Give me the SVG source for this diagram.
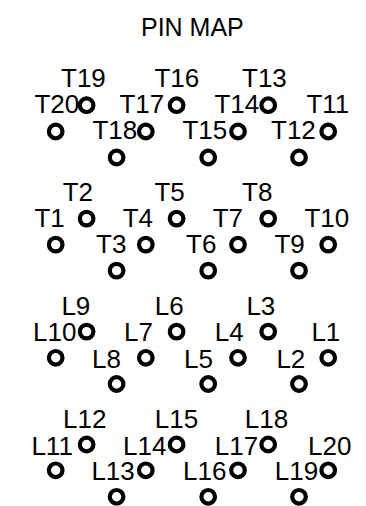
<svg xmlns="http://www.w3.org/2000/svg" width="366" height="506" viewBox="0 0 366 506">
<style>
text{font-family:"Liberation Sans",Arial,Helvetica,sans-serif;font-size:26px;fill:#000}
.title{font-size:25px}
circle{fill:none;stroke:#000;stroke-width:4.2}
</style>
<rect width="366" height="506" fill="#fff"/>
<text class="title" x="141" y="35.7">PIN MAP</text>
<g id="connectors"/>
<g id="sec-T-upper">
<g id="T19"><text x="61" y="86.7">T19</text><circle cx="86.6" cy="105.2" r="6.8"/></g>
<g id="T16"><text x="154.4" y="86.7">T16</text><circle cx="176.6" cy="105.2" r="6.8"/></g>
<g id="T13"><text x="242" y="86.7">T13</text><circle cx="268.2" cy="105.2" r="6.8"/></g>
<g id="T20"><text x="34.4" y="112.9">T20</text><circle cx="55.7" cy="131.5" r="6.8"/></g>
<g id="T17"><text x="119.4" y="112.9">T17</text><circle cx="145.8" cy="131.5" r="6.8"/></g>
<g id="T14"><text x="214.4" y="112.9">T14</text><circle cx="238" cy="131.5" r="6.8"/></g>
<g id="T11"><text x="306.4" y="112.9">T11</text><circle cx="328.2" cy="131.5" r="6.8"/></g>
<g id="T18"><text x="92.4" y="139.1">T18</text><circle cx="116.6" cy="157.5" r="6.8"/></g>
<g id="T15"><text x="182.4" y="139.1">T15</text><circle cx="208.2" cy="157.5" r="6.8"/></g>
<g id="T12"><text x="271" y="139.1">T12</text><circle cx="299" cy="157.5" r="6.8"/></g>
</g>
<g id="sec-T-lower">
<g id="T2"><text x="62.7" y="200.8">T2</text><circle cx="86.6" cy="218.6" r="6.8"/></g>
<g id="T5"><text x="154.4" y="200.8">T5</text><circle cx="176.6" cy="218.6" r="6.8"/></g>
<g id="T8"><text x="242" y="200.8">T8</text><circle cx="268.2" cy="218.6" r="6.8"/></g>
<g id="T1"><text x="34.4" y="226.7">T1</text><circle cx="55.7" cy="244.6" r="6.8"/></g>
<g id="T4"><text x="122.7" y="226.7">T4</text><circle cx="145.8" cy="244.6" r="6.8"/></g>
<g id="T7"><text x="212.7" y="226.7">T7</text><circle cx="238" cy="244.6" r="6.8"/></g>
<g id="T10"><text x="304.4" y="226.7">T10</text><circle cx="328.2" cy="244.6" r="6.8"/></g>
<g id="T3"><text x="96" y="252.8">T3</text><circle cx="116.6" cy="270.6" r="6.8"/></g>
<g id="T6"><text x="186" y="252.8">T6</text><circle cx="208.2" cy="270.6" r="6.8"/></g>
<g id="T9"><text x="274.4" y="252.8">T9</text><circle cx="299" cy="270.6" r="6.8"/></g>
</g>
<g id="sec-L-upper">
<g id="L9"><text x="61.4" y="315.2">L9</text><circle cx="86.6" cy="331.6" r="6.8"/></g>
<g id="L6"><text x="154.8" y="315.2">L6</text><circle cx="176.6" cy="331.6" r="6.8"/></g>
<g id="L3"><text x="246.4" y="315.2">L3</text><circle cx="268.2" cy="331.6" r="6.8"/></g>
<g id="L10"><text x="33.1" y="341.4">L10</text><circle cx="55.7" cy="357.8" r="6.8"/></g>
<g id="L7"><text x="124.1" y="341.4">L7</text><circle cx="145.8" cy="357.8" r="6.8"/></g>
<g id="L4"><text x="214.8" y="341.4">L4</text><circle cx="238" cy="357.8" r="6.8"/></g>
<g id="L1"><text x="311.4" y="341.4">L1</text><circle cx="328.2" cy="357.8" r="6.8"/></g>
<g id="L8"><text x="92.1" y="367.6">L8</text><circle cx="116.6" cy="384" r="6.8"/></g>
<g id="L5"><text x="184.1" y="367.6">L5</text><circle cx="208.2" cy="384" r="6.8"/></g>
<g id="L2"><text x="276.4" y="367.6">L2</text><circle cx="299" cy="384" r="6.8"/></g>
</g>
<g id="sec-L-lower">
<g id="L12"><text x="63.1" y="428">L12</text><circle cx="86.6" cy="444.5" r="6.8"/></g>
<g id="L15"><text x="154.8" y="428">L15</text><circle cx="176.6" cy="444.5" r="6.8"/></g>
<g id="L18"><text x="244.8" y="428">L18</text><circle cx="268.2" cy="444.5" r="6.8"/></g>
<g id="L11"><text x="31.4" y="454.6">L11</text><circle cx="55.7" cy="470.3" r="6.8"/></g>
<g id="L14"><text x="123.1" y="454.6">L14</text><circle cx="145.8" cy="470.3" r="6.8"/></g>
<g id="L17"><text x="214.8" y="454.6">L17</text><circle cx="238" cy="470.3" r="6.8"/></g>
<g id="L20"><text x="308" y="454.6">L20</text><circle cx="328.2" cy="470.3" r="6.8"/></g>
<g id="L13"><text x="91.4" y="480.3">L13</text><circle cx="116.6" cy="496.8" r="6.8"/></g>
<g id="L16"><text x="183.1" y="480.3">L16</text><circle cx="208.2" cy="496.8" r="6.8"/></g>
<g id="L19"><text x="274.8" y="480.3">L19</text><circle cx="299" cy="496.8" r="6.8"/></g>
</g>
</svg>
